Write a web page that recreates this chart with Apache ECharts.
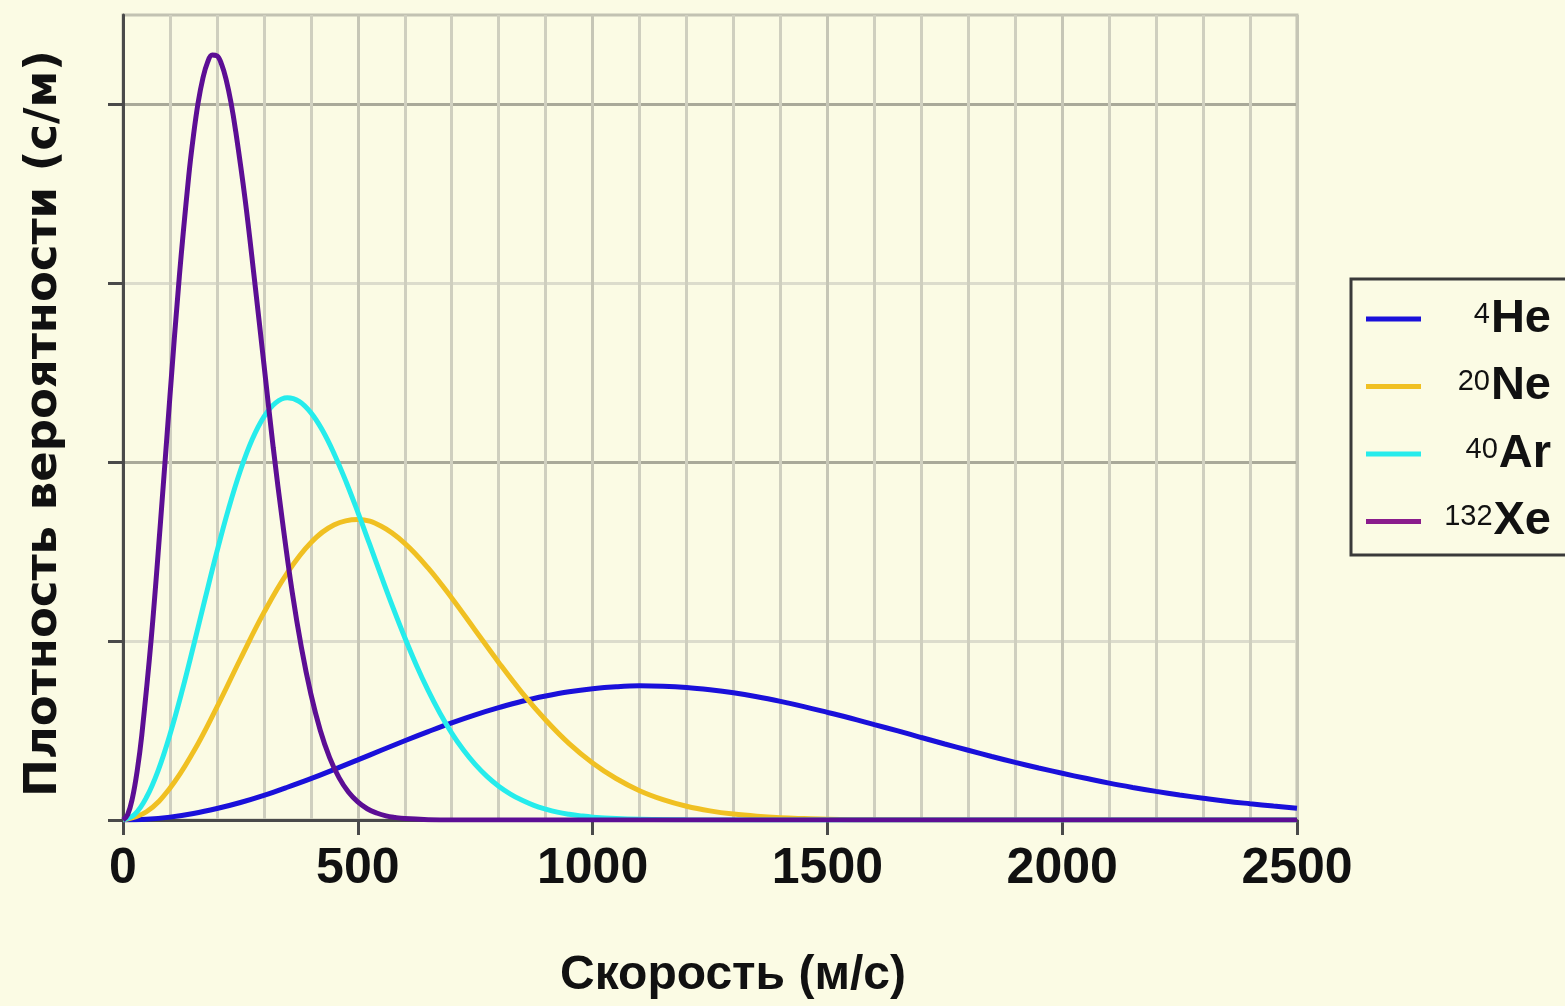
<!DOCTYPE html>
<html>
<head>
<meta charset="utf-8">
<script src="https://cdn.jsdelivr.net/npm/echarts@6/dist/echarts.min.js"></script>
<style>
html,body{margin:0;padding:0;background:#fbfbe4;}
#chart{width:1565px;height:1006px;}
</style>
</head>
<body>
<div id="chart"></div>
<script>
// Speeds (m/s) and probability densities (10^-3 s/m)
const xeSpeed = [0,10,20,30,40,60,80,100,120,140,150,160,170,180,190,200,210,220,230,240,260,280,300,320,340,360,380,400,420,440,460,480,500,520,540,560,580,600,650,700,800,1000,1500,2000,2500];
const xeDensity = [0,0.031,0.122,0.271,0.474,1.01,1.67,2.37,3.04,3.60,3.825,4.01,4.145,4.235,4.276,4.272,4.224,4.135,4.01,3.85,3.47,3.02,2.55,2.08,1.66,1.28,0.963,0.705,0.502,0.349,0.237,0.156,0.101,0.063,0.039,0.023,0.014,0.008,0.002,0,0,0,0,0,0];

const arSpeed = [0,25,50,75,100,125,150,175,200,225,250,275,300,325,350,375,400,425,450,475,500,525,550,575,600,625,650,675,700,725,750,775,800,825,850,875,900,925,950,975,1000,1050,1100,1200,1500,2000,2500];
const arDensity = [0,0.032,0.127,0.278,0.478,0.713,0.972,1.239,1.50,1.742,1.954,2.127,2.254,2.332,2.36,2.34,2.277,2.177,2.045,1.891,1.721,1.543,1.363,1.187,1.02,0.864,0.723,0.597,0.486,0.391,0.311,0.244,0.189,0.145,0.110,0.082,0.061,0.044,0.032,0.023,0.016,0.008,0.004,0.001,0,0,0];

const neSpeed = [0,50,100,150,200,250,300,350,400,450,500,550,600,650,700,750,800,850,900,950,1000,1050,1100,1150,1200,1250,1300,1350,1400,1450,1500,1600,2000,2500];
const neDensity = [0,0.046,0.178,0.381,0.631,0.900,1.159,1.382,1.550,1.650,1.680,1.642,1.547,1.408,1.241,1.061,0.881,0.711,0.559,0.427,0.319,0.232,0.164,0.114,0.077,0.051,0.033,0.021,0.013,0.008,0.004,0.001,0,0];

const heSpeed = [0,50,100,150,200,250,300,350,400,450,500,550,600,650,700,750,800,850,900,950,1000,1050,1100,1150,1200,1250,1300,1350,1400,1450,1500,1550,1600,1650,1700,1750,1800,1850,1900,1950,2000,2050,2100,2150,2200,2250,2300,2350,2400,2450,2500];
const heDensity = [0,0.004,0.016,0.036,0.064,0.098,0.138,0.183,0.231,0.283,0.336,0.390,0.443,0.494,0.543,0.588,0.628,0.664,0.693,0.717,0.734,0.745,0.750,0.748,0.741,0.728,0.711,0.689,0.663,0.634,0.602,0.569,0.533,0.498,0.461,0.425,0.390,0.355,0.322,0.291,0.261,0.233,0.206,0.182,0.160,0.140,0.122,0.105,0.091,0.078,0.066];

const gases = ['He','Ne','Ar','Xe'];
const massNumbers = {He:'4', Ne:'20', Ar:'40', Xe:'132'};
const xTickLabels = ['0','500','1000','1500','2000','2500'];
const yTickValues = [0,1,2,3,4];
const xTitle = 'Скорость (м/с)';
const yTitle = 'Плотность вероятности (с/м)';

function pairs(xs, ys){ return xs.map((x,i)=>[x, ys[i]]); }

const colors = {He:'#1a10da', Ne:'#f0c022', Ar:'#26ecec', Xe:'#5c0e94'};
const dataMap = {
  He: pairs(heSpeed, heDensity),
  Ne: pairs(neSpeed, neDensity),
  Ar: pairs(arSpeed, arDensity),
  Xe: pairs(xeSpeed, xeDensity)
};

const FONT = '"Liberation Sans", Arial, sans-serif';
const chart = echarts.init(document.getElementById('chart'), null, {renderer:'canvas'});
const option = {
  backgroundColor: '#fbfbe4',
  animation: false,
  grid: {left:123, right:268, top:15, bottom:186, show:true, borderColor:'#c2c2b2', borderWidth:3},
  xAxis: {
    type:'value', min:0, max:2500, interval:500,
    axisLine:{show:true, onZero:false, lineStyle:{color:'#4a4a4a', width:3}},
    axisTick:{show:true, length:15, lineStyle:{color:'#4a4a4a', width:3}},
    minorTick:{show:false, splitNumber:5},
    splitLine:{show:true, lineStyle:{color:'#c6c6b6', width:3}},
    minorSplitLine:{show:true, lineStyle:{color:'#cfcfbf', width:3}},
    axisLabel:{margin:24, color:'#111', fontFamily:FONT, fontWeight:'bold', fontSize:50,
      formatter:(v)=>{const i = xTickLabels.indexOf(String(v)); return i>=0 ? xTickLabels[i] : '';}},
    name: xTitle, nameLocation:'middle', nameGap:132,
    nameTextStyle:{color:'#111', fontFamily:FONT, fontWeight:'bold', fontSize:48, padding:[0,0,0,46]}
  },
  yAxis: {
    type:'value', min:0, max:4.5, interval:0.5,
    axisLine:{show:true, onZero:false, lineStyle:{color:'#4a4a4a', width:3}},
    axisTick:{show:true, customValues:yTickValues, length:15, lineStyle:{color:'#4a4a4a', width:3}},
    axisLabel:{show:false},
    splitLine:{show:true, lineStyle:{color:['#a9a999','#dcdccc'], width:3}},
    name: yTitle, nameLocation:'middle', nameGap:56,
    nameTextStyle:{color:'#111', fontFamily:'"DejaVu Sans", sans-serif', fontWeight:'bold', fontSize:45, padding:[0,12,0,0]}
  },
  legend: {
    orient:'vertical', left:1351, top:279,
    padding:[15,22,10,15], itemGap:19,
    itemWidth:55, itemHeight:5, icon:'rect',
    borderColor:'#3a3a3a', borderWidth:3, backgroundColor:'#fbfbe4',
    data: gases.map(g => g==='Xe' ? {name:g, itemStyle:{color:'#8a1c8c'}} : {name:g}),
    formatter: (name)=> '{sup|' + massNumbers[name] + '}{main|' + name + '}',
    textStyle: {
      width:125, height:50,
      rich: {
        sup:{align:'right', verticalAlign:'top', fontFamily:FONT, fontSize:29, lineHeight:30, color:'#111', padding:[6,1,0,0]},
        main:{align:'right', fontFamily:FONT, fontWeight:'bold', fontSize:47, lineHeight:50, color:'#111'}
      }
    }
  },
  series: gases.map(g => ({
    name:g, type:'line', data:dataMap[g], showSymbol:false, smooth:0.4,
    lineStyle:{color:colors[g], width:5}, itemStyle:{color:colors[g]},
    clip:true, z: 2
  }))
};
chart.setOption(option);
</script>
</body>
</html>
